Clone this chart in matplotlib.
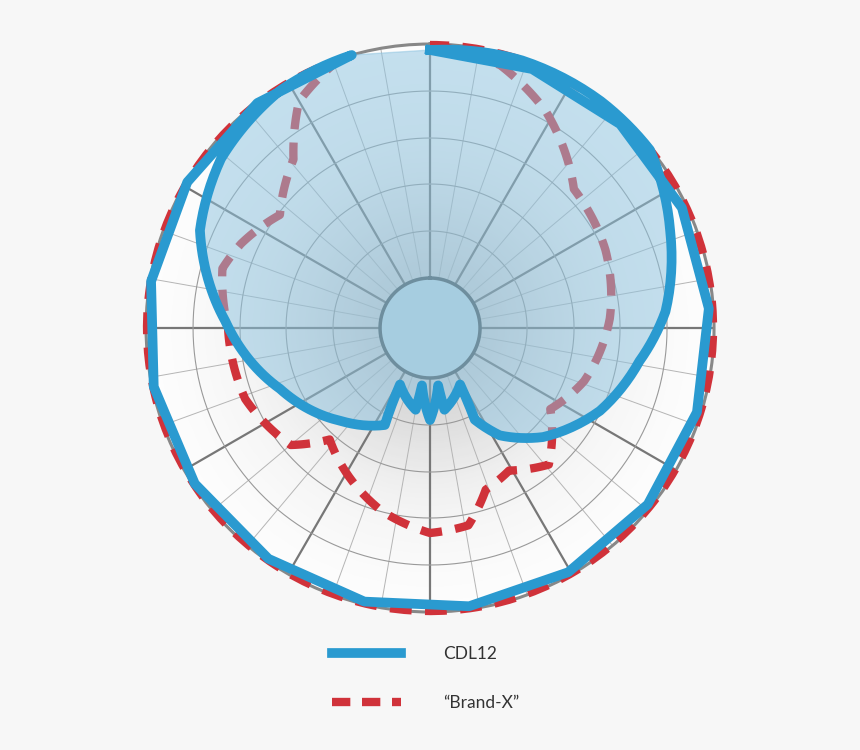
import numpy as np
import matplotlib.pyplot as plt
from matplotlib.lines import Line2D

# polar response, angle in degrees clockwise from top, radius on a 0-284 scale
cdl_ang = [0, 19, 37, 51, 68, 86, 99, 116, 134, 147, 154, 152, 170, 172, 180,
           188, 190, 208, 205, 224, 248, 272, 293, 309, 328, 344]
cdl_r = [278, 283, 284, 283, 259, 236, 212, 189, 157, 128, 102, 64, 83, 58, 92,
         58, 83, 64, 107, 129, 162, 205, 250, 269, 281, 284]

bx_ang = [0, 15, 28, 46, 66, 87, 109, 124, 139, 151, 161, 169, 180, 195, 222,
          230, 249, 270, 286, 294, 307, 321, 330, 341]
bx_r = [283, 272, 246, 200, 192, 180, 163, 145, 181, 163, 171, 201, 205, 189, 150,
        182, 198, 202, 216, 207, 188, 217, 262, 283]

labels = ["CDL12", "\u201cBrand-X\u201d"]
R_MAX = 284
R_HUB = 50

fig = plt.figure(figsize=(8.6, 7.5), dpi=100, facecolor="#f7f7f7")
ax = fig.add_axes([0.1698, 0.1840, 0.6605, 0.7573], projection="polar")
ax.set_theta_zero_location("N")
ax.set_theta_direction(-1)
ax.set_ylim(0, R_MAX)
ax.set_facecolor("white")

# soft radial shading
th = np.linspace(0, 2 * np.pi, 181)
rr = np.linspace(0, R_MAX, 120)
T, RR = np.meshgrid(th, rr)
shade = np.exp(-(RR / 170.0) ** 2)
ax.pcolormesh(T, RR, shade, cmap="Greys", vmin=0, vmax=3.2, shading="auto", zorder=0)

ax.grid(False)
ax.set_xticks([])
ax.set_yticks([])
for a in range(0, 360, 10):
    major = a % 30 == 0
    ax.plot([np.radians(a)] * 2, [R_HUB, R_MAX], color="#777777" if major else "#b5b5b5",
            lw=1.6 if major else 0.7, zorder=1)
for r in [97, 144, 190, 237]:
    ax.plot(th, [r] * len(th), color="#999999", lw=0.8, zorder=1)
ax.spines["polar"].set_color("#888888")
ax.spines["polar"].set_linewidth(2.2)

t_c = np.radians(cdl_ang + [cdl_ang[0]])
r_c = cdl_r + [cdl_r[0]]
t_b = np.radians(bx_ang + [bx_ang[0]])
r_b = bx_r + [bx_r[0]]


def smooth(artist):
    # draw segments as arcs in polar space instead of straight chords
    artist.get_path()._interpolation_steps = 16


ln_b, = ax.plot(t_b, r_b, color="#d0323a", lw=6, dashes=(2.6, 1.6), clip_on=False,
                zorder=3, solid_joinstyle="round")
smooth(ln_b)
for p in ax.fill(t_c, r_c, color="#8cc3e0", alpha=0.5, clip_on=False, zorder=4):
    smooth(p)
ln_c, = ax.plot(t_c, r_c, color="#2a9ad0", lw=7, clip_on=False, zorder=5,
                solid_joinstyle="round")
smooth(ln_c)

# hub
ax.fill(th, [R_HUB] * len(th), color="#a6cde0", zorder=6)
ax.plot(th, [R_HUB] * len(th), color="#6e8e9e", lw=2.5, zorder=7)

handles = [Line2D([], [], color="#2a9ad0", lw=7),
           Line2D([], [], color="#d0323a", lw=6, dashes=(2.2, 1.4))]
fig.legend(handles, labels, loc="center", bbox_to_anchor=(0.495, 0.095), frameon=False,
           handlelength=4.0, handletextpad=2.4, labelspacing=1.9,
           prop={"family": "Lato", "size": 12.5}, labelcolor="#333333")

fig.savefig("out.png", facecolor=fig.get_facecolor())
